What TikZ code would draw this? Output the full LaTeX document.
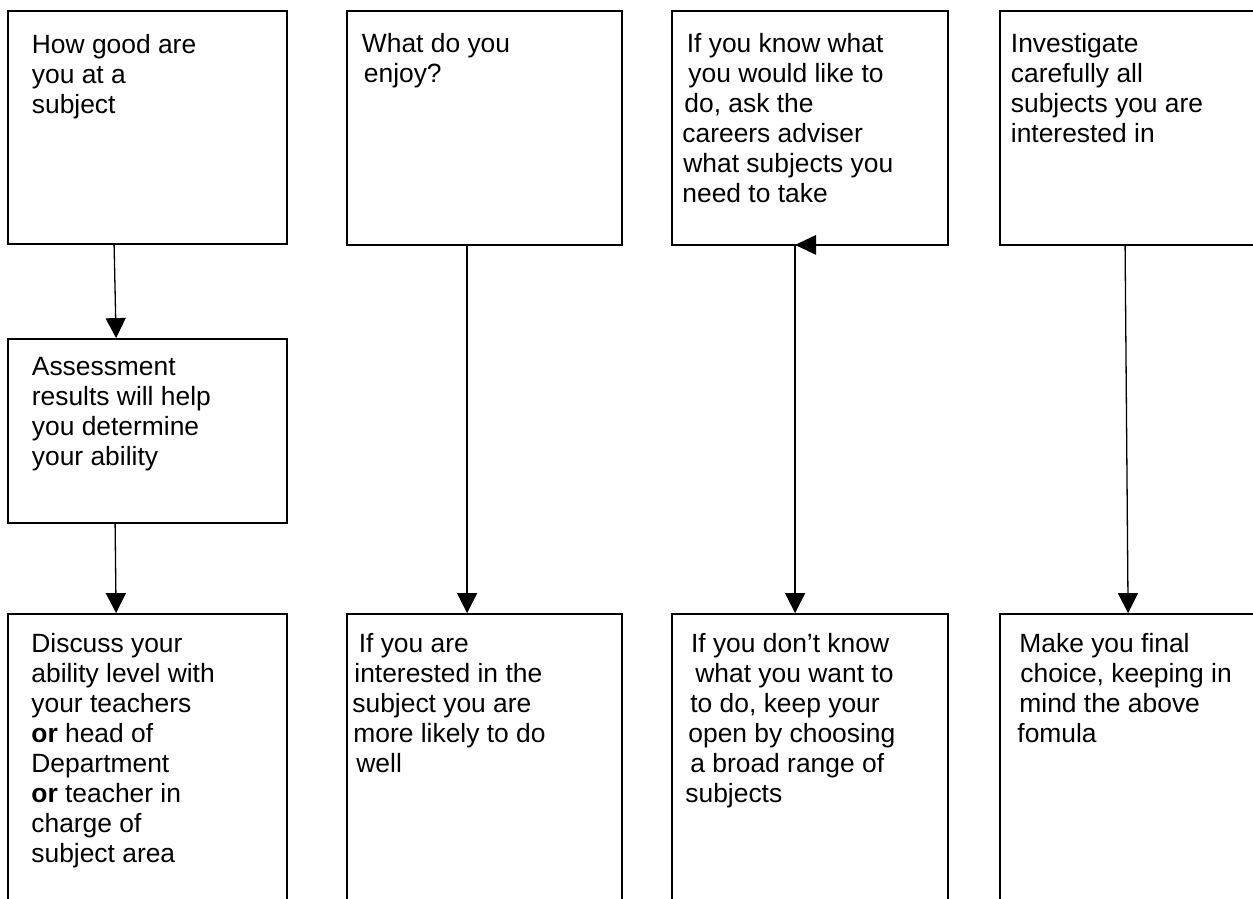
\documentclass[tikz,border=0pt]{standalone}
\usepackage{fontspec}
\setmainfont{Liberation Sans}
\usetikzlibrary{fit,calc,arrows.meta}
\newcommand{\fstrut}{\rule{0pt}{10pt}}
\newcommand{\ind}[1]{\hspace*{#1pt}}
\begin{document}
\begin{tikzpicture}[x=0.5pt,y=-0.5pt,
  box/.style={draw=black,line width=0.9pt,inner sep=0pt,rectangle},
  txt/.style={anchor=north west,inner sep=0pt,align=left,font=\fontsize{13.2pt}{15pt}\selectfont},
  arr/.style={line width=0.65pt,-{Triangle[length=10pt,width=10pt]}}]
\useasboundingbox (0,0) rectangle (1253,899);
\clip (0,0) rectangle (1253,899);
% boxes
\node[box,fit={(8,11) (287,244)}] (b1) {};
\node[box,fit={(347,11) (622,245)}] (b2) {};
\node[box,fit={(672,11) (948,245)}] (b3) {};
\node[box,fit={(1000,11) (1275,245)}] (b4) {};
\node[box,fit={(8,339) (287,523)}] (as) {};
\node[box,fit={(8,614) (287,930)}] (d1) {};
\node[box,fit={(347,614) (622,930)}] (d2) {};
\node[box,fit={(672,614) (948,930)}] (d3) {};
\node[box,fit={(1000,614) (1275,930)}] (d4) {};
% texts
\node[txt] (t1) at (31.5,33) {\fstrut How good are\\you at a\\subject};
\node[txt] (t2) at (361.5,32) {\fstrut What do you\\\ind{1}enjoy?};
\node[txt] (t3) at (682,32) {\fstrut\ind{2.2}If you know what\\\ind{3}you would like to\\\ind{1}do, ask the\\careers adviser\\\ind{0.5}what subjects you\\need to take};
\node[txt] (t4) at (1010.5,32) {\fstrut Investigate\\carefully all\\subjects you are\\interested in};
\node[txt] (t5) at (31.5,355) {\fstrut Assessment\\results will help\\you determine\\your ability};
\node[txt] (t6) at (31,632) {\fstrut Discuss your\\ability level with\\your teachers\\\textbf{or} head of\\Department\\\textbf{or} teacher in\\charge of\\subject area};
\node[txt] (t7) at (352,632) {\fstrut\ind{3.2}If you are\\\ind{1}interested in the\\subject you are\\\ind{0.5}more likely to do\\\ind{2}well};
\node[txt] (t8) at (685,632) {\fstrut\ind{2.8}If you don’t know\\\ind{5}what you want to\\\ind{2.5}to do, keep your\\\ind{1.5}open by choosing\\\ind{2.5}a broad range of\\subjects};
\node[txt] (t9) at (1017,632) {\fstrut\ind{1}Make you final\\\ind{1.5}choice, keeping in\\\ind{1}mind the above\\fomula};
% connectors
\draw[arr] ($(b1.south west)+(107,0)$) -- ($(as.north west)+(109,0)$);
\draw[arr] ($(as.south west)+(108,0)$) -- ($(d1.north west)+(109,0)$);
\draw[arr] ($(b2.south west)+(121,0)$) -- ($(d2.north west)+(121,0)$);
\coordinate (tip3) at ($(b3.south west)+(124,-1)$);
\draw[arr] (tip3) -- ($(d3.north west)+(124,0)$);
\fill (tip3) -- ++(21,-10) -- ++(0,20) -- cycle;
\draw[arr] ($(b4.south west)+(126,0)$) -- ($(d4.north west)+(129,0)$);
\end{tikzpicture}
\end{document}
